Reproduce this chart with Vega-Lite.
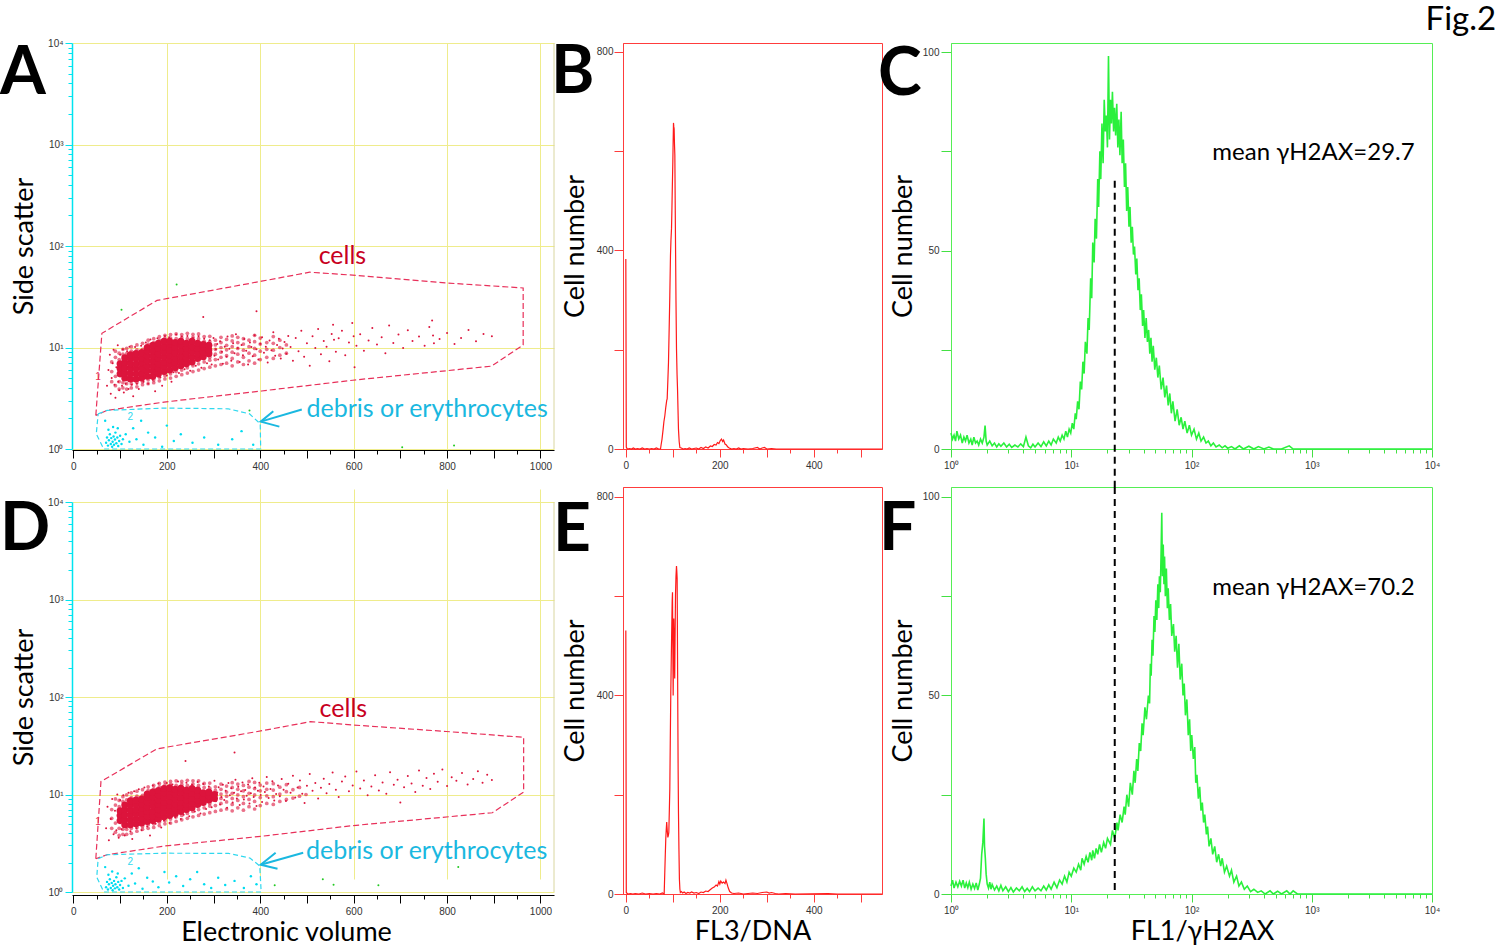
{
  "$schema": "https://vega.github.io/schema/vega-lite/v6.json",
  "padding": {"top": 4, "left": 0, "right": 0, "bottom": 0},
  "background": "white",
  "title": {"text": "Fig.2", "anchor": "end", "frame": "bounds", "fontSize": 33, "fontWeight": "normal", "dx": 56, "offset": 1},
  "columns": 3,
  "bounds": "flush",
  "align": "each",
  "spacing": {"row": 38, "column": 69},
  "datasets": {
    "aCellsGate": [
      {"i": 0, "v": 48, "s": 2.14}, {"i": 1, "v": 61, "s": 13.8}, {"i": 2, "v": 179, "s": 29.1}, {"i": 3, "v": 403, "s": 45.0},
      {"i": 4, "v": 506, "s": 55.2}, {"i": 5, "v": 598, "s": 51.6}, {"i": 6, "v": 796, "s": 43.3}, {"i": 7, "v": 963, "s": 38.6},
      {"i": 8, "v": 963, "s": 10.6}, {"i": 9, "v": 895, "s": 6.55}, {"i": 10, "v": 598, "s": 4.76}, {"i": 11, "v": 403, "s": 3.73},
      {"i": 12, "v": 194, "s": 2.9}, {"i": 13, "v": 72, "s": 2.4}, {"i": 14, "v": 48, "s": 2.14}
    ],
    "aDebrisGate": [
      {"i": 0, "v": 53, "s": 2.22}, {"i": 1, "v": 72, "s": 2.4}, {"i": 2, "v": 194, "s": 2.53}, {"i": 3, "v": 331, "s": 2.49},
      {"i": 4, "v": 377, "s": 2.22}, {"i": 5, "v": 400, "s": 1.77}, {"i": 6, "v": 401, "s": 1.0}, {"i": 7, "v": 65, "s": 1.0},
      {"i": 8, "v": 49, "s": 1.41}, {"i": 9, "v": 53, "s": 2.22}
    ],
    "aArrow": [
      {"part": "shaft", "i": 0, "v": 489, "s": 2.45}, {"part": "shaft", "i": 1, "v": 401, "s": 1.86},
      {"part": "head", "i": 0, "v": 428, "s": 2.36}, {"part": "head", "i": 1, "v": 401, "s": 1.86}, {"part": "head", "i": 2, "v": 441, "s": 1.66}
    ],
    "aCellsLabel": [{"v": 576, "s": 65.8, "t": "cells"}],
    "aDebrisLabel": [{"v": 499, "s": 2.06, "t": "debris or erythrocytes"}],
    "aGateNo": [{"v": 53, "s": 5.1, "t": "1"}, {"v": 122, "s": 2.06, "t": "2"}],
    "aEdge": [{"v": 1029, "s": 1, "s2": 10000}],
    "aCore": [
      {"v": 100, "s": 5.5}, {"v": 100, "s": 6.2}, {"v": 100, "s": 6.9},
      {"v": 110, "s": 5.0}, {"v": 110, "s": 5.6}, {"v": 110, "s": 6.3}, {"v": 110, "s": 7.1}, {"v": 110, "s": 7.9},
      {"v": 122, "s": 4.9}, {"v": 122, "s": 5.5}, {"v": 122, "s": 6.2}, {"v": 122, "s": 6.9}, {"v": 122, "s": 7.8}, {"v": 122, "s": 8.5},
      {"v": 134, "s": 4.9}, {"v": 134, "s": 5.5}, {"v": 134, "s": 6.2}, {"v": 134, "s": 6.9}, {"v": 134, "s": 7.8}, {"v": 134, "s": 8.7},
      {"v": 146, "s": 5.0}, {"v": 146, "s": 5.6}, {"v": 146, "s": 6.3}, {"v": 146, "s": 7.1}, {"v": 146, "s": 7.9}, {"v": 146, "s": 8.9},
      {"v": 158, "s": 5.2}, {"v": 158, "s": 5.9}, {"v": 158, "s": 6.6}, {"v": 158, "s": 7.4}, {"v": 158, "s": 8.3}, {"v": 158, "s": 9.3}, {"v": 158, "s": 10.0},
      {"v": 170, "s": 5.2}, {"v": 170, "s": 5.9}, {"v": 170, "s": 6.6}, {"v": 170, "s": 7.4}, {"v": 170, "s": 8.3}, {"v": 170, "s": 9.3}, {"v": 170, "s": 10.5},
      {"v": 182, "s": 5.5}, {"v": 182, "s": 6.2}, {"v": 182, "s": 6.9}, {"v": 182, "s": 7.8}, {"v": 182, "s": 8.7}, {"v": 182, "s": 9.8}, {"v": 182, "s": 11.0},
      {"v": 194, "s": 5.8}, {"v": 194, "s": 6.5}, {"v": 194, "s": 7.2}, {"v": 194, "s": 8.1}, {"v": 194, "s": 9.1}, {"v": 194, "s": 10.2}, {"v": 194, "s": 11.5},
      {"v": 206, "s": 6.0}, {"v": 206, "s": 6.8}, {"v": 206, "s": 7.6}, {"v": 206, "s": 8.5}, {"v": 206, "s": 9.5}, {"v": 206, "s": 10.7}, {"v": 206, "s": 11.5},
      {"v": 218, "s": 6.3}, {"v": 218, "s": 7.1}, {"v": 218, "s": 7.9}, {"v": 218, "s": 8.9}, {"v": 218, "s": 10.0}, {"v": 218, "s": 11.2},
      {"v": 230, "s": 6.6}, {"v": 230, "s": 7.4}, {"v": 230, "s": 8.3}, {"v": 230, "s": 9.3}, {"v": 230, "s": 10.5}, {"v": 230, "s": 11.5},
      {"v": 242, "s": 6.9}, {"v": 242, "s": 7.8}, {"v": 242, "s": 8.7}, {"v": 242, "s": 9.8}, {"v": 242, "s": 11.0},
      {"v": 254, "s": 7.2}, {"v": 254, "s": 8.1}, {"v": 254, "s": 9.1}, {"v": 254, "s": 10.2}, {"v": 254, "s": 11.5},
      {"v": 266, "s": 7.8}, {"v": 266, "s": 8.7}, {"v": 266, "s": 9.8}, {"v": 266, "s": 11.0},
      {"v": 278, "s": 8.1}, {"v": 278, "s": 9.1}, {"v": 278, "s": 10.2}, {"v": 278, "s": 10.7},
      {"v": 290, "s": 8.7}, {"v": 290, "s": 9.5}, {"v": 290, "s": 10.5}
    ],
    "aHalo": [
      {"v": 82, "s": 4.6}, {"v": 82, "s": 5.8}, {"v": 82, "s": 7.2},
      {"v": 90, "s": 4.2}, {"v": 90, "s": 5.2}, {"v": 90, "s": 8.0}, {"v": 90, "s": 9.2},
      {"v": 98, "s": 3.9}, {"v": 98, "s": 4.6}, {"v": 98, "s": 7.6}, {"v": 98, "s": 8.8},
      {"v": 106, "s": 4.0}, {"v": 106, "s": 4.5}, {"v": 106, "s": 8.6}, {"v": 106, "s": 9.6},
      {"v": 114, "s": 3.9}, {"v": 114, "s": 4.4}, {"v": 114, "s": 8.7}, {"v": 114, "s": 9.8},
      {"v": 124, "s": 4.0}, {"v": 124, "s": 4.4}, {"v": 124, "s": 9.2}, {"v": 124, "s": 10.2},
      {"v": 136, "s": 4.1}, {"v": 136, "s": 4.5}, {"v": 136, "s": 9.5}, {"v": 136, "s": 10.6},
      {"v": 148, "s": 4.3}, {"v": 148, "s": 4.6}, {"v": 148, "s": 9.6}, {"v": 148, "s": 11.0},
      {"v": 160, "s": 4.4}, {"v": 160, "s": 4.8}, {"v": 160, "s": 10.8}, {"v": 160, "s": 11.8},
      {"v": 172, "s": 4.5}, {"v": 172, "s": 4.8}, {"v": 172, "s": 11.2}, {"v": 172, "s": 12.2},
      {"v": 184, "s": 4.7}, {"v": 184, "s": 5.1}, {"v": 184, "s": 11.8}, {"v": 184, "s": 12.8},
      {"v": 196, "s": 4.9}, {"v": 196, "s": 5.3}, {"v": 196, "s": 12.3}, {"v": 196, "s": 13.2},
      {"v": 208, "s": 5.0}, {"v": 208, "s": 5.5}, {"v": 208, "s": 12.4}, {"v": 208, "s": 13.4},
      {"v": 220, "s": 5.2}, {"v": 220, "s": 5.8}, {"v": 220, "s": 12.2}, {"v": 220, "s": 13.6},
      {"v": 232, "s": 5.4}, {"v": 232, "s": 6.0}, {"v": 232, "s": 12.5}, {"v": 232, "s": 13.4},
      {"v": 244, "s": 5.6}, {"v": 244, "s": 6.3}, {"v": 244, "s": 12.2}, {"v": 244, "s": 13.8},
      {"v": 256, "s": 5.8}, {"v": 256, "s": 6.6}, {"v": 256, "s": 12.6}, {"v": 256, "s": 13.5},
      {"v": 268, "s": 6.0}, {"v": 268, "s": 6.9}, {"v": 268, "s": 12.2}, {"v": 268, "s": 13.6},
      {"v": 280, "s": 6.2}, {"v": 280, "s": 7.2}, {"v": 280, "s": 11.5}, {"v": 280, "s": 12.8},
      {"v": 292, "s": 6.4}, {"v": 292, "s": 7.5}, {"v": 292, "s": 8.0}, {"v": 292, "s": 11.4}, {"v": 292, "s": 12.9},
      {"v": 304, "s": 6.6}, {"v": 304, "s": 7.6}, {"v": 304, "s": 8.6}, {"v": 304, "s": 9.6}, {"v": 304, "s": 10.6}, {"v": 304, "s": 11.8},
      {"v": 316, "s": 6.8}, {"v": 316, "s": 8.0}, {"v": 316, "s": 9.0}, {"v": 316, "s": 10.0}, {"v": 316, "s": 11.2}, {"v": 316, "s": 12.6},
      {"v": 328, "s": 7.0}, {"v": 328, "s": 8.3}, {"v": 328, "s": 9.5}, {"v": 328, "s": 10.5}, {"v": 328, "s": 12.0},
      {"v": 340, "s": 6.6}, {"v": 340, "s": 7.8}, {"v": 340, "s": 9.0}, {"v": 340, "s": 10.2}, {"v": 340, "s": 11.6}, {"v": 340, "s": 13.0},
      {"v": 352, "s": 7.2}, {"v": 352, "s": 8.6}, {"v": 352, "s": 9.8}, {"v": 352, "s": 11.2}, {"v": 352, "s": 12.6},
      {"v": 364, "s": 6.8}, {"v": 364, "s": 8.0}, {"v": 364, "s": 9.4}, {"v": 364, "s": 10.8}, {"v": 364, "s": 12.2},
      {"v": 376, "s": 7.4}, {"v": 376, "s": 8.8}, {"v": 376, "s": 10.2}, {"v": 376, "s": 11.8},
      {"v": 388, "s": 7.0}, {"v": 388, "s": 8.4}, {"v": 388, "s": 9.8}, {"v": 388, "s": 11.4}, {"v": 388, "s": 13.2},
      {"v": 400, "s": 7.6}, {"v": 400, "s": 9.2}, {"v": 400, "s": 10.8}, {"v": 400, "s": 12.4},
      {"v": 414, "s": 8.0}, {"v": 414, "s": 9.6}, {"v": 414, "s": 11.2},
      {"v": 428, "s": 7.8}, {"v": 428, "s": 9.4}, {"v": 428, "s": 11.0}, {"v": 428, "s": 12.8},
      {"v": 442, "s": 8.4}, {"v": 442, "s": 10.0}, {"v": 442, "s": 11.8},
      {"v": 456, "s": 8.8}, {"v": 456, "s": 10.6}
    ],
    "aSparse": [
      {"v": 72, "s": 4.2}, {"v": 75, "s": 6}, {"v": 78, "s": 8.5}, {"v": 80, "s": 3.5}, {"v": 82, "s": 5}, {"v": 84, "s": 7}, {"v": 86, "s": 9.5},
      {"v": 88, "s": 4.3}, {"v": 90, "s": 3.2}, {"v": 92, "s": 6.4}, {"v": 95, "s": 10.5}, {"v": 96, "s": 4.6}, {"v": 98, "s": 3.8}, {"v": 100, "s": 8.5},
      {"v": 104, "s": 4.2}, {"v": 106, "s": 9.6}, {"v": 108, "s": 3.6}, {"v": 112, "s": 4.4}, {"v": 115, "s": 9.2}, {"v": 118, "s": 3.9}, {"v": 120, "s": 10.2},
      {"v": 125, "s": 4.3}, {"v": 128, "s": 3.3}, {"v": 132, "s": 10.1}, {"v": 136, "s": 4.4}, {"v": 140, "s": 3.9}, {"v": 145, "s": 10.4}, {"v": 150, "s": 4.6},
      {"v": 155, "s": 11.2}, {"v": 160, "s": 4.4}, {"v": 165, "s": 12}, {"v": 170, "s": 4.8}, {"v": 175, "s": 3.7}, {"v": 180, "s": 12.3}, {"v": 186, "s": 5.1},
      {"v": 190, "s": 4.2}, {"v": 196, "s": 13}, {"v": 200, "s": 5.3}, {"v": 205, "s": 12.6}, {"v": 210, "s": 4.6}, {"v": 214, "s": 5.7}, {"v": 220, "s": 13.4},
      {"v": 226, "s": 5.6}, {"v": 232, "s": 12.8}, {"v": 238, "s": 6.1}, {"v": 244, "s": 13}, {"v": 250, "s": 5.9}, {"v": 256, "s": 12.4}, {"v": 262, "s": 6.6},
      {"v": 268, "s": 12.9}, {"v": 274, "s": 6.3}, {"v": 280, "s": 12.2}, {"v": 286, "s": 7}, {"v": 292, "s": 11.8}, {"v": 296, "s": 6.8}, {"v": 300, "s": 12.4},
      {"v": 302, "s": 8.3}, {"v": 305, "s": 9.6}, {"v": 308, "s": 10.8}, {"v": 310, "s": 7.6}, {"v": 314, "s": 11.5}, {"v": 318, "s": 9.1}, {"v": 320, "s": 6.9},
      {"v": 324, "s": 10.2}, {"v": 328, "s": 8.1}, {"v": 330, "s": 12.8}, {"v": 334, "s": 9.7}, {"v": 338, "s": 7.4}, {"v": 342, "s": 11}, {"v": 345, "s": 8.8},
      {"v": 348, "s": 13.5}, {"v": 352, "s": 9.9}, {"v": 356, "s": 7.2}, {"v": 360, "s": 10.6}, {"v": 363, "s": 8.4}, {"v": 366, "s": 12.1}, {"v": 370, "s": 9.3},
      {"v": 374, "s": 6.8}, {"v": 378, "s": 11.2}, {"v": 381, "s": 10.1}, {"v": 384, "s": 8.2}, {"v": 388, "s": 13.2}, {"v": 392, "s": 9.6}, {"v": 396, "s": 7.6},
      {"v": 400, "s": 10.9}, {"v": 404, "s": 12.6}, {"v": 408, "s": 8.9}, {"v": 412, "s": 10.2}, {"v": 416, "s": 7.1}, {"v": 420, "s": 11.7}, {"v": 424, "s": 9.4},
      {"v": 428, "s": 14.1}, {"v": 432, "s": 8.3}, {"v": 436, "s": 10.6}, {"v": 440, "s": 12.2}, {"v": 444, "s": 7.8}, {"v": 448, "s": 9.8}, {"v": 452, "s": 11.3},
      {"v": 456, "s": 8.7}, {"v": 460, "s": 13}, {"v": 465, "s": 10.1}, {"v": 470, "s": 7.4}, {"v": 476, "s": 12.4}, {"v": 482, "s": 9.2}, {"v": 488, "s": 14.6},
      {"v": 494, "s": 8.1}, {"v": 500, "s": 11}, {"v": 506, "s": 6.6}, {"v": 512, "s": 12.9}, {"v": 518, "s": 9.9}, {"v": 524, "s": 15.2}, {"v": 530, "s": 8.6},
      {"v": 536, "s": 11.6}, {"v": 542, "s": 10.2}, {"v": 548, "s": 7.3}, {"v": 553, "s": 13.6}, {"v": 556, "s": 16.8}, {"v": 558, "s": 11.9}, {"v": 562, "s": 9.1},
      {"v": 568, "s": 12.3}, {"v": 575, "s": 14.6}, {"v": 582, "s": 8.4}, {"v": 590, "s": 11.2}, {"v": 597, "s": 17.4}, {"v": 600, "s": 12.9}, {"v": 602, "s": 6.4},
      {"v": 606, "s": 10.4}, {"v": 614, "s": 13.5}, {"v": 622, "s": 9.3}, {"v": 632, "s": 11.7}, {"v": 640, "s": 15.6}, {"v": 650, "s": 10.7}, {"v": 660, "s": 12.6},
      {"v": 668, "s": 8.8}, {"v": 676, "s": 16.5}, {"v": 685, "s": 11.1}, {"v": 696, "s": 13.4}, {"v": 706, "s": 9.9}, {"v": 716, "s": 14.8}, {"v": 726, "s": 11.6},
      {"v": 740, "s": 12.8}, {"v": 752, "s": 10.4}, {"v": 762, "s": 15.9}, {"v": 768, "s": 18.4}, {"v": 770, "s": 13.1}, {"v": 772, "s": 11}, {"v": 784, "s": 12.1},
      {"v": 800, "s": 13.9}, {"v": 816, "s": 10.8}, {"v": 830, "s": 12.4}, {"v": 846, "s": 14.9}, {"v": 862, "s": 11.5}, {"v": 878, "s": 13.6}, {"v": 896, "s": 12.9},
      {"v": 392, "s": 22.7}, {"v": 278, "s": 20}
    ],
    "aDebris": [
      {"v": 70, "s": 1.15}, {"v": 72, "s": 1.3}, {"v": 74, "s": 1.08}, {"v": 76, "s": 1.22}, {"v": 78, "s": 1.4}, {"v": 80, "s": 1.12}, {"v": 81, "s": 1.28},
      {"v": 83, "s": 1.05}, {"v": 84, "s": 1.18}, {"v": 86, "s": 1.33}, {"v": 87, "s": 1.1}, {"v": 89, "s": 1.24}, {"v": 90, "s": 1.45}, {"v": 92, "s": 1.14},
      {"v": 94, "s": 1.3}, {"v": 96, "s": 1.07}, {"v": 98, "s": 1.2}, {"v": 100, "s": 1.35}, {"v": 103, "s": 1.12}, {"v": 106, "s": 1.25}, {"v": 75, "s": 1.55},
      {"v": 85, "s": 1.65}, {"v": 95, "s": 1.6}, {"v": 68, "s": 1.9}, {"v": 112, "s": 1.4}, {"v": 120, "s": 1.18}, {"v": 128, "s": 1.6}, {"v": 135, "s": 1.25},
      {"v": 145, "s": 1.9}, {"v": 150, "s": 1.1}, {"v": 160, "s": 1.45}, {"v": 175, "s": 1.3}, {"v": 190, "s": 1.05}, {"v": 200, "s": 1.7}, {"v": 215, "s": 1.2},
      {"v": 230, "s": 1.4}, {"v": 255, "s": 1.15}, {"v": 280, "s": 1.3}, {"v": 310, "s": 1.1}, {"v": 340, "s": 1.25}, {"v": 360, "s": 1.5}, {"v": 385, "s": 1.1}
    ],
    "aGreen": [{"v": 221, "s": 41.7}, {"v": 103, "s": 23.5}, {"v": 815, "s": 1.08}, {"v": 704, "s": 1.04}, {"v": 377, "s": 2.4}],
    "dCellsGate": [
      {"i": 0, "v": 48, "s": 2.19}, {"i": 1, "v": 59, "s": 13.6}, {"i": 2, "v": 179, "s": 29.4}, {"i": 3, "v": 405, "s": 45.2},
      {"i": 4, "v": 508, "s": 55.9}, {"i": 5, "v": 599, "s": 51.6}, {"i": 6, "v": 798, "s": 44.3}, {"i": 7, "v": 964, "s": 38.6},
      {"i": 8, "v": 964, "s": 10.6}, {"i": 9, "v": 897, "s": 6.5}, {"i": 10, "v": 599, "s": 4.8}, {"i": 11, "v": 405, "s": 3.74},
      {"i": 12, "v": 195, "s": 2.96}, {"i": 13, "v": 72, "s": 2.41}, {"i": 14, "v": 48, "s": 2.19}
    ],
    "dDebrisGate": [
      {"i": 0, "v": 53, "s": 2.19}, {"i": 1, "v": 72, "s": 2.41}, {"i": 2, "v": 195, "s": 2.5}, {"i": 3, "v": 332, "s": 2.49},
      {"i": 4, "v": 378, "s": 2.23}, {"i": 5, "v": 399, "s": 1.85}, {"i": 6, "v": 402, "s": 1.0}, {"i": 7, "v": 65, "s": 1.0},
      {"i": 8, "v": 50, "s": 1.42}, {"i": 9, "v": 53, "s": 2.19}
    ],
    "dArrow": [
      {"part": "shaft", "i": 0, "v": 492, "s": 2.53}, {"part": "shaft", "i": 1, "v": 401, "s": 1.9},
      {"part": "head", "i": 0, "v": 433, "s": 2.53}, {"part": "head", "i": 1, "v": 401, "s": 1.9}, {"part": "head", "i": 2, "v": 437, "s": 1.73}
    ],
    "dCellsLabel": [{"v": 578, "s": 61.9, "t": "cells"}],
    "dDebrisLabel": [{"v": 498, "s": 2.19, "t": "debris or erythrocytes"}],
    "dGateNo": [{"v": 53, "s": 5.2, "t": "1"}, {"v": 122, "s": 2.03, "t": "2"}],
    "dEdge": [{"v": 1029, "s": 1, "s2": 10000}],
    "dCore": [
      {"v": 100, "s": 5.4}, {"v": 100, "s": 6.1}, {"v": 100, "s": 6.8},
      {"v": 110, "s": 4.9}, {"v": 110, "s": 5.5}, {"v": 110, "s": 6.2}, {"v": 110, "s": 7.0}, {"v": 110, "s": 7.8},
      {"v": 122, "s": 4.9}, {"v": 122, "s": 5.5}, {"v": 122, "s": 6.2}, {"v": 122, "s": 6.9}, {"v": 122, "s": 7.8}, {"v": 122, "s": 8.6},
      {"v": 134, "s": 5.0}, {"v": 134, "s": 5.6}, {"v": 134, "s": 6.3}, {"v": 134, "s": 7.0}, {"v": 134, "s": 7.9}, {"v": 134, "s": 8.8},
      {"v": 146, "s": 5.1}, {"v": 146, "s": 5.7}, {"v": 146, "s": 6.4}, {"v": 146, "s": 7.2}, {"v": 146, "s": 8.0}, {"v": 146, "s": 9.0},
      {"v": 158, "s": 5.3}, {"v": 158, "s": 6.0}, {"v": 158, "s": 6.7}, {"v": 158, "s": 7.5}, {"v": 158, "s": 8.4}, {"v": 158, "s": 9.4}, {"v": 158, "s": 10.1},
      {"v": 170, "s": 5.4}, {"v": 170, "s": 6.0}, {"v": 170, "s": 6.7}, {"v": 170, "s": 7.6}, {"v": 170, "s": 8.5}, {"v": 170, "s": 9.5}, {"v": 170, "s": 10.6},
      {"v": 182, "s": 5.6}, {"v": 182, "s": 6.3}, {"v": 182, "s": 7.0}, {"v": 182, "s": 7.9}, {"v": 182, "s": 8.8}, {"v": 182, "s": 9.9}, {"v": 182, "s": 11.0},
      {"v": 194, "s": 5.9}, {"v": 194, "s": 6.6}, {"v": 194, "s": 7.4}, {"v": 194, "s": 8.3}, {"v": 194, "s": 9.3}, {"v": 194, "s": 10.4}, {"v": 194, "s": 11.5},
      {"v": 206, "s": 6.1}, {"v": 206, "s": 6.9}, {"v": 206, "s": 7.7}, {"v": 206, "s": 8.6}, {"v": 206, "s": 9.6}, {"v": 206, "s": 10.8}, {"v": 206, "s": 11.7},
      {"v": 218, "s": 6.4}, {"v": 218, "s": 7.2}, {"v": 218, "s": 8.0}, {"v": 218, "s": 9.0}, {"v": 218, "s": 10.1}, {"v": 218, "s": 11.3},
      {"v": 230, "s": 6.7}, {"v": 230, "s": 7.5}, {"v": 230, "s": 8.4}, {"v": 230, "s": 9.4}, {"v": 230, "s": 10.6}, {"v": 230, "s": 11.6},
      {"v": 242, "s": 7.0}, {"v": 242, "s": 7.9}, {"v": 242, "s": 8.8}, {"v": 242, "s": 9.9}, {"v": 242, "s": 11.1},
      {"v": 254, "s": 7.3}, {"v": 254, "s": 8.2}, {"v": 254, "s": 9.2}, {"v": 254, "s": 10.3}, {"v": 254, "s": 11.5},
      {"v": 266, "s": 7.9}, {"v": 266, "s": 8.8}, {"v": 266, "s": 9.9}, {"v": 266, "s": 11.1},
      {"v": 278, "s": 8.3}, {"v": 278, "s": 9.3}, {"v": 278, "s": 10.4},
      {"v": 290, "s": 8.8}, {"v": 290, "s": 9.7}, {"v": 290, "s": 10.6},
      {"v": 302, "s": 9.1}, {"v": 302, "s": 10.0}
    ],
    "dHalo": [
      {"v": 82, "s": 4.5}, {"v": 82, "s": 5.7}, {"v": 82, "s": 7.0},
      {"v": 90, "s": 4.1}, {"v": 90, "s": 5.1}, {"v": 90, "s": 7.8}, {"v": 90, "s": 9.0},
      {"v": 98, "s": 3.8}, {"v": 98, "s": 4.5}, {"v": 98, "s": 7.5}, {"v": 98, "s": 8.7},
      {"v": 106, "s": 3.9}, {"v": 106, "s": 4.4}, {"v": 106, "s": 8.5}, {"v": 106, "s": 9.5},
      {"v": 114, "s": 3.9}, {"v": 114, "s": 4.4}, {"v": 114, "s": 8.8}, {"v": 114, "s": 9.9},
      {"v": 124, "s": 4.0}, {"v": 124, "s": 4.5}, {"v": 124, "s": 9.3}, {"v": 124, "s": 10.4},
      {"v": 136, "s": 4.2}, {"v": 136, "s": 4.6}, {"v": 136, "s": 9.6}, {"v": 136, "s": 10.8},
      {"v": 148, "s": 4.4}, {"v": 148, "s": 4.7}, {"v": 148, "s": 9.8}, {"v": 148, "s": 11.2},
      {"v": 160, "s": 4.5}, {"v": 160, "s": 4.9}, {"v": 160, "s": 11.0}, {"v": 160, "s": 12.0},
      {"v": 172, "s": 4.6}, {"v": 172, "s": 5.0}, {"v": 172, "s": 11.4}, {"v": 172, "s": 12.4},
      {"v": 184, "s": 4.8}, {"v": 184, "s": 5.2}, {"v": 184, "s": 12.0}, {"v": 184, "s": 13.0},
      {"v": 196, "s": 5.0}, {"v": 196, "s": 5.4}, {"v": 196, "s": 12.5}, {"v": 196, "s": 13.4},
      {"v": 208, "s": 5.1}, {"v": 208, "s": 5.6}, {"v": 208, "s": 12.6}, {"v": 208, "s": 13.6},
      {"v": 220, "s": 5.3}, {"v": 220, "s": 5.9}, {"v": 220, "s": 12.4}, {"v": 220, "s": 13.8},
      {"v": 232, "s": 5.5}, {"v": 232, "s": 6.1}, {"v": 232, "s": 12.7}, {"v": 232, "s": 13.6},
      {"v": 244, "s": 5.7}, {"v": 244, "s": 6.4}, {"v": 244, "s": 12.4}, {"v": 244, "s": 14.0},
      {"v": 256, "s": 5.9}, {"v": 256, "s": 6.7}, {"v": 256, "s": 12.8}, {"v": 256, "s": 13.8},
      {"v": 268, "s": 6.1}, {"v": 268, "s": 7.0}, {"v": 268, "s": 12.4}, {"v": 268, "s": 13.8},
      {"v": 280, "s": 6.3}, {"v": 280, "s": 7.3}, {"v": 280, "s": 11.8}, {"v": 280, "s": 13.0},
      {"v": 292, "s": 6.5}, {"v": 292, "s": 7.6}, {"v": 292, "s": 8.1}, {"v": 292, "s": 11.6}, {"v": 292, "s": 13.1},
      {"v": 304, "s": 6.7}, {"v": 304, "s": 7.7}, {"v": 304, "s": 8.7}, {"v": 304, "s": 11.0}, {"v": 304, "s": 12.0},
      {"v": 316, "s": 6.9}, {"v": 316, "s": 8.1}, {"v": 316, "s": 9.1}, {"v": 316, "s": 10.1}, {"v": 316, "s": 11.3}, {"v": 316, "s": 12.8},
      {"v": 328, "s": 7.1}, {"v": 328, "s": 8.4}, {"v": 328, "s": 9.6}, {"v": 328, "s": 10.6}, {"v": 328, "s": 12.2},
      {"v": 340, "s": 6.8}, {"v": 340, "s": 7.9}, {"v": 340, "s": 9.1}, {"v": 340, "s": 10.3}, {"v": 340, "s": 11.8}, {"v": 340, "s": 13.2},
      {"v": 352, "s": 7.3}, {"v": 352, "s": 8.7}, {"v": 352, "s": 9.9}, {"v": 352, "s": 11.3}, {"v": 352, "s": 12.8},
      {"v": 364, "s": 6.9}, {"v": 364, "s": 8.1}, {"v": 364, "s": 9.5}, {"v": 364, "s": 10.9}, {"v": 364, "s": 12.4},
      {"v": 376, "s": 7.5}, {"v": 376, "s": 8.9}, {"v": 376, "s": 10.3}, {"v": 376, "s": 11.9}, {"v": 376, "s": 13.6},
      {"v": 388, "s": 7.1}, {"v": 388, "s": 8.5}, {"v": 388, "s": 9.9}, {"v": 388, "s": 11.5}, {"v": 388, "s": 13.3},
      {"v": 400, "s": 7.7}, {"v": 400, "s": 9.3}, {"v": 400, "s": 10.9}, {"v": 400, "s": 12.5},
      {"v": 414, "s": 8.1}, {"v": 414, "s": 9.7}, {"v": 414, "s": 11.3}, {"v": 414, "s": 13.1},
      {"v": 428, "s": 7.9}, {"v": 428, "s": 9.5}, {"v": 428, "s": 11.1}, {"v": 428, "s": 12.9},
      {"v": 442, "s": 8.5}, {"v": 442, "s": 10.1}, {"v": 442, "s": 11.9},
      {"v": 456, "s": 8.9}, {"v": 456, "s": 10.7}, {"v": 456, "s": 12.6},
      {"v": 470, "s": 9.2}, {"v": 470, "s": 11.2},
      {"v": 484, "s": 9.6}, {"v": 484, "s": 11.8},
      {"v": 498, "s": 10.0}
    ],
    "dSparse": [
      {"v": 70, "s": 4.5}, {"v": 73, "s": 7.5}, {"v": 76, "s": 3.4}, {"v": 80, "s": 5.6}, {"v": 83, "s": 9}, {"v": 86, "s": 3.9}, {"v": 89, "s": 6.8},
      {"v": 92, "s": 4.3}, {"v": 94, "s": 10}, {"v": 97, "s": 3.6}, {"v": 100, "s": 8.8}, {"v": 103, "s": 4.4}, {"v": 107, "s": 9.8}, {"v": 110, "s": 3.8},
      {"v": 114, "s": 4.6}, {"v": 118, "s": 10.4}, {"v": 122, "s": 4.2}, {"v": 126, "s": 3.5}, {"v": 130, "s": 10.8}, {"v": 135, "s": 4.5}, {"v": 140, "s": 11.3},
      {"v": 146, "s": 4.3}, {"v": 152, "s": 11.8}, {"v": 158, "s": 4.7}, {"v": 164, "s": 3.8}, {"v": 170, "s": 12.4}, {"v": 176, "s": 5}, {"v": 182, "s": 13},
      {"v": 188, "s": 4.6}, {"v": 194, "s": 5.4}, {"v": 200, "s": 13.1}, {"v": 206, "s": 5.1}, {"v": 212, "s": 12.7}, {"v": 218, "s": 5.8}, {"v": 224, "s": 13.6},
      {"v": 230, "s": 5.6}, {"v": 236, "s": 6.2}, {"v": 242, "s": 13.2}, {"v": 248, "s": 6}, {"v": 254, "s": 12.6}, {"v": 260, "s": 6.7}, {"v": 266, "s": 13.4},
      {"v": 272, "s": 6.4}, {"v": 278, "s": 12.8}, {"v": 284, "s": 7.1}, {"v": 290, "s": 12.1}, {"v": 296, "s": 7.4}, {"v": 302, "s": 13.8},
      {"v": 305, "s": 8.6}, {"v": 308, "s": 10.5}, {"v": 311, "s": 11.9}, {"v": 314, "s": 7.9}, {"v": 317, "s": 9.4}, {"v": 320, "s": 12.6}, {"v": 323, "s": 8.8},
      {"v": 326, "s": 10.9}, {"v": 329, "s": 7.3}, {"v": 332, "s": 13.1}, {"v": 335, "s": 9.8}, {"v": 338, "s": 11.6}, {"v": 341, "s": 8.3}, {"v": 344, "s": 10.4},
      {"v": 347, "s": 14.2}, {"v": 350, "s": 9.1}, {"v": 353, "s": 12}, {"v": 356, "s": 7.8}, {"v": 359, "s": 10.8}, {"v": 362, "s": 13.3}, {"v": 365, "s": 8.9},
      {"v": 368, "s": 11.1}, {"v": 371, "s": 9.7}, {"v": 374, "s": 12.7}, {"v": 377, "s": 8.1}, {"v": 380, "s": 10.3}, {"v": 383, "s": 14.7}, {"v": 386, "s": 9.4},
      {"v": 389, "s": 11.8}, {"v": 392, "s": 7.6}, {"v": 395, "s": 10.9}, {"v": 398, "s": 13.2}, {"v": 401, "s": 9.9}, {"v": 404, "s": 8.4}, {"v": 407, "s": 12.1},
      {"v": 410, "s": 10.6}, {"v": 414, "s": 15.1}, {"v": 418, "s": 9.2}, {"v": 422, "s": 11.4}, {"v": 426, "s": 13.7}, {"v": 430, "s": 8.7}, {"v": 434, "s": 10.1},
      {"v": 438, "s": 12.4}, {"v": 442, "s": 9.6}, {"v": 446, "s": 14.4}, {"v": 450, "s": 11.2}, {"v": 455, "s": 8.6}, {"v": 460, "s": 12.9}, {"v": 465, "s": 10.4},
      {"v": 470, "s": 15.6}, {"v": 475, "s": 9.3}, {"v": 480, "s": 11.8}, {"v": 485, "s": 13.9}, {"v": 490, "s": 10.2}, {"v": 495, "s": 8.2}, {"v": 500, "s": 12.3},
      {"v": 506, "s": 16.2}, {"v": 512, "s": 10.9}, {"v": 518, "s": 13.1}, {"v": 524, "s": 9.1}, {"v": 530, "s": 11.7}, {"v": 536, "s": 14.5},
      {"v": 542, "s": 10.3}, {"v": 548, "s": 12.8}, {"v": 555, "s": 16.8}, {"v": 562, "s": 11.2}, {"v": 568, "s": 9.4}, {"v": 575, "s": 13.6}, {"v": 582, "s": 15.3},
      {"v": 590, "s": 10.8}, {"v": 598, "s": 12.4}, {"v": 606, "s": 17.2}, {"v": 614, "s": 11.5}, {"v": 622, "s": 13.9}, {"v": 630, "s": 9.8}, {"v": 638, "s": 12.1},
      {"v": 646, "s": 15.8}, {"v": 654, "s": 11}, {"v": 662, "s": 13.3}, {"v": 670, "s": 10.2}, {"v": 678, "s": 16.9}, {"v": 686, "s": 12.6}, {"v": 694, "s": 14.2},
      {"v": 700, "s": 8.3}, {"v": 708, "s": 11.9}, {"v": 716, "s": 15.5}, {"v": 724, "s": 13}, {"v": 732, "s": 10.6}, {"v": 740, "s": 17.6}, {"v": 748, "s": 12.3},
      {"v": 756, "s": 14.8}, {"v": 764, "s": 11.4}, {"v": 772, "s": 16.3}, {"v": 780, "s": 13.5}, {"v": 790, "s": 18}, {"v": 800, "s": 12.2}, {"v": 810, "s": 15},
      {"v": 820, "s": 13.8}, {"v": 832, "s": 16.6}, {"v": 844, "s": 12.7}, {"v": 856, "s": 14.4}, {"v": 866, "s": 17.3}, {"v": 876, "s": 13.2}, {"v": 886, "s": 15.9},
      {"v": 896, "s": 14.1}, {"v": 240, "s": 22}, {"v": 345, "s": 27}
    ],
    "dDebris": [
      {"v": 70, "s": 1.12}, {"v": 72, "s": 1.27}, {"v": 74, "s": 1.06}, {"v": 76, "s": 1.2}, {"v": 78, "s": 1.35}, {"v": 80, "s": 1.1}, {"v": 82, "s": 1.24},
      {"v": 84, "s": 1.04}, {"v": 85, "s": 1.16}, {"v": 87, "s": 1.3}, {"v": 89, "s": 1.09}, {"v": 90, "s": 1.2}, {"v": 92, "s": 1.42}, {"v": 94, "s": 1.12},
      {"v": 96, "s": 1.27}, {"v": 98, "s": 1.06}, {"v": 100, "s": 1.18}, {"v": 103, "s": 1.3}, {"v": 106, "s": 1.1}, {"v": 75, "s": 1.5}, {"v": 83, "s": 1.62},
      {"v": 95, "s": 1.55}, {"v": 68, "s": 1.8}, {"v": 110, "s": 1.38}, {"v": 118, "s": 1.16}, {"v": 125, "s": 1.55}, {"v": 132, "s": 1.22}, {"v": 140, "s": 1.75},
      {"v": 148, "s": 1.08}, {"v": 158, "s": 1.4}, {"v": 170, "s": 1.28}, {"v": 182, "s": 1.12}, {"v": 195, "s": 1.6}, {"v": 205, "s": 1.25}, {"v": 220, "s": 1.45},
      {"v": 235, "s": 1.15}, {"v": 250, "s": 1.35}, {"v": 265, "s": 1.6}, {"v": 280, "s": 1.2}, {"v": 295, "s": 1.1}, {"v": 310, "s": 1.4}, {"v": 325, "s": 1.18},
      {"v": 345, "s": 1.3}, {"v": 365, "s": 1.1}, {"v": 380, "s": 1.45}, {"v": 392, "s": 1.2}
    ],
    "dGreen": [{"v": 431, "s": 1.17}, {"v": 557, "s": 1.19}, {"v": 653, "s": 1.17}, {"v": 824, "s": 1.8}, {"v": 534, "s": 1.35}],
    "bHist": [
      {"ch": 0, "n": 383}, {"ch": 1, "n": 4}, {"ch": 3, "n": 0}, {"ch": 8, "n": 1}, {"ch": 12, "n": 0}, {"ch": 16, "n": 2}, {"ch": 20, "n": 0},
      {"ch": 25, "n": 1}, {"ch": 30, "n": 0}, {"ch": 35, "n": 2}, {"ch": 40, "n": 0}, {"ch": 45, "n": 1}, {"ch": 50, "n": 0}, {"ch": 55, "n": 1},
      {"ch": 60, "n": 0}, {"ch": 65, "n": 2}, {"ch": 70, "n": 0}, {"ch": 73.8, "n": 0},
      {"ch": 75, "n": 8}, {"ch": 77, "n": 20}, {"ch": 79.4, "n": 40}, {"ch": 81, "n": 55}, {"ch": 83, "n": 67}, {"ch": 85, "n": 84}, {"ch": 87, "n": 98},
      {"ch": 88, "n": 101}, {"ch": 89.5, "n": 140}, {"ch": 90.8, "n": 175}, {"ch": 92.2, "n": 242}, {"ch": 93.6, "n": 309}, {"ch": 95, "n": 390},
      {"ch": 96, "n": 420}, {"ch": 97.2, "n": 444}, {"ch": 98, "n": 480}, {"ch": 98.6, "n": 511}, {"ch": 99.3, "n": 545}, {"ch": 100, "n": 578},
      {"ch": 100.7, "n": 620}, {"ch": 101.4, "n": 657}, {"ch": 102, "n": 650}, {"ch": 102.8, "n": 645}, {"ch": 103.5, "n": 615}, {"ch": 104.3, "n": 592},
      {"ch": 105, "n": 500}, {"ch": 105.7, "n": 417}, {"ch": 106.7, "n": 300}, {"ch": 107.8, "n": 202}, {"ch": 109, "n": 150}, {"ch": 110, "n": 121},
      {"ch": 111, "n": 80}, {"ch": 112, "n": 40}, {"ch": 113.5, "n": 15}, {"ch": 115, "n": 3},
      {"ch": 118, "n": 2}, {"ch": 122, "n": 0}, {"ch": 126, "n": 1}, {"ch": 130, "n": 0}, {"ch": 135, "n": 2}, {"ch": 140, "n": 0}, {"ch": 145, "n": 1},
      {"ch": 150, "n": 2}, {"ch": 155, "n": 0}, {"ch": 160, "n": 3}, {"ch": 165, "n": 1}, {"ch": 170, "n": 4}, {"ch": 175, "n": 2}, {"ch": 180, "n": 6},
      {"ch": 184, "n": 5}, {"ch": 188, "n": 9}, {"ch": 192, "n": 8}, {"ch": 195, "n": 13}, {"ch": 198, "n": 11}, {"ch": 201, "n": 17}, {"ch": 203.5, "n": 20},
      {"ch": 206, "n": 15}, {"ch": 208, "n": 18}, {"ch": 211, "n": 10}, {"ch": 214, "n": 8}, {"ch": 217, "n": 4}, {"ch": 220, "n": 2}, {"ch": 225, "n": 0},
      {"ch": 230, "n": 1}, {"ch": 235, "n": 0}, {"ch": 240, "n": 2}, {"ch": 245, "n": 0}, {"ch": 250, "n": 1}, {"ch": 260, "n": 0}, {"ch": 270, "n": 1},
      {"ch": 280, "n": 3}, {"ch": 285, "n": 0}, {"ch": 290, "n": 2}, {"ch": 295, "n": 3}, {"ch": 300, "n": 0}, {"ch": 310, "n": 1}, {"ch": 320, "n": 0},
      {"ch": 400, "n": 0}, {"ch": 545, "n": 0}
    ],
    "eHist": [
      {"ch": 0, "n": 531}, {"ch": 1, "n": 3}, {"ch": 4, "n": 0}, {"ch": 10, "n": 1}, {"ch": 15, "n": 0}, {"ch": 20, "n": 1}, {"ch": 28, "n": 0},
      {"ch": 35, "n": 2}, {"ch": 42, "n": 0}, {"ch": 50, "n": 1}, {"ch": 58, "n": 0}, {"ch": 65, "n": 1}, {"ch": 72, "n": 0}, {"ch": 78, "n": 2},
      {"ch": 81.6, "n": 0}, {"ch": 82.9, "n": 44}, {"ch": 84, "n": 80}, {"ch": 85, "n": 111}, {"ch": 86, "n": 130}, {"ch": 87, "n": 145}, {"ch": 88, "n": 130},
      {"ch": 89.4, "n": 114}, {"ch": 90.5, "n": 118}, {"ch": 91.5, "n": 124}, {"ch": 92.5, "n": 165}, {"ch": 93.6, "n": 212}, {"ch": 94.6, "n": 310},
      {"ch": 95.7, "n": 407}, {"ch": 96.8, "n": 480}, {"ch": 97.9, "n": 548}, {"ch": 98.6, "n": 590}, {"ch": 99.3, "n": 608}, {"ch": 100, "n": 500},
      {"ch": 100.7, "n": 400}, {"ch": 101.3, "n": 470}, {"ch": 102, "n": 555}, {"ch": 103, "n": 500}, {"ch": 104, "n": 434}, {"ch": 104.8, "n": 520},
      {"ch": 105.7, "n": 602}, {"ch": 106.7, "n": 640}, {"ch": 107.8, "n": 661}, {"ch": 108.5, "n": 650}, {"ch": 109.2, "n": 635}, {"ch": 110, "n": 480},
      {"ch": 110.6, "n": 366}, {"ch": 111.3, "n": 250}, {"ch": 112, "n": 165}, {"ch": 113, "n": 90}, {"ch": 114, "n": 30}, {"ch": 115, "n": 10}, {"ch": 116, "n": 3},
      {"ch": 118, "n": 5}, {"ch": 121, "n": 2}, {"ch": 124, "n": 4}, {"ch": 128, "n": 1}, {"ch": 132, "n": 3}, {"ch": 136, "n": 2}, {"ch": 140, "n": 4},
      {"ch": 145, "n": 2}, {"ch": 150, "n": 3}, {"ch": 155, "n": 1}, {"ch": 160, "n": 4}, {"ch": 165, "n": 3}, {"ch": 170, "n": 6}, {"ch": 175, "n": 5},
      {"ch": 180, "n": 9}, {"ch": 184, "n": 12}, {"ch": 188, "n": 14}, {"ch": 192, "n": 18}, {"ch": 195, "n": 16}, {"ch": 198, "n": 25}, {"ch": 200, "n": 20},
      {"ch": 202, "n": 26}, {"ch": 205, "n": 22}, {"ch": 208, "n": 24}, {"ch": 211, "n": 21}, {"ch": 213, "n": 28}, {"ch": 215, "n": 22}, {"ch": 218, "n": 12},
      {"ch": 221, "n": 5}, {"ch": 225, "n": 2}, {"ch": 230, "n": 1}, {"ch": 240, "n": 2}, {"ch": 250, "n": 0}, {"ch": 260, "n": 1}, {"ch": 270, "n": 2},
      {"ch": 280, "n": 1}, {"ch": 290, "n": 3}, {"ch": 300, "n": 4}, {"ch": 305, "n": 2}, {"ch": 310, "n": 3}, {"ch": 318, "n": 1}, {"ch": 325, "n": 0},
      {"ch": 340, "n": 1}, {"ch": 360, "n": 0}, {"ch": 430, "n": 1}, {"ch": 450, "n": 0}, {"ch": 545, "n": 0}
    ],
    "cHist": [
      {"fl": 1.0, "n": 4}, {"fl": 1.03, "n": 2.5}, {"fl": 1.06, "n": 3.5}, {"fl": 1.09, "n": 2}, {"fl": 1.12, "n": 4.5}, {"fl": 1.16, "n": 2.5}, {"fl": 1.2, "n": 3.5},
      {"fl": 1.24, "n": 1.5}, {"fl": 1.28, "n": 3}, {"fl": 1.32, "n": 2}, {"fl": 1.36, "n": 3.5}, {"fl": 1.41, "n": 1.5}, {"fl": 1.46, "n": 2.5}, {"fl": 1.5, "n": 1},
      {"fl": 1.55, "n": 3}, {"fl": 1.6, "n": 1.5}, {"fl": 1.65, "n": 2}, {"fl": 1.7, "n": 1}, {"fl": 1.76, "n": 2.5}, {"fl": 1.82, "n": 1.5}, {"fl": 1.88, "n": 3},
      {"fl": 1.92, "n": 5.9}, {"fl": 1.96, "n": 2}, {"fl": 2.0, "n": 1}, {"fl": 2.1, "n": 2}, {"fl": 2.2, "n": 0.8}, {"fl": 2.3, "n": 1.5}, {"fl": 2.4, "n": 0.5},
      {"fl": 2.5, "n": 1.3}, {"fl": 2.6, "n": 0.7}, {"fl": 2.75, "n": 1.5}, {"fl": 2.9, "n": 0.5}, {"fl": 3.05, "n": 1.2}, {"fl": 3.2, "n": 0.4}, {"fl": 3.4, "n": 1},
      {"fl": 3.6, "n": 0.5}, {"fl": 3.8, "n": 1.3}, {"fl": 4.0, "n": 0.6}, {"fl": 4.2, "n": 3}, {"fl": 4.4, "n": 0.8}, {"fl": 4.6, "n": 0.3}, {"fl": 4.8, "n": 1.2},
      {"fl": 5.0, "n": 0.5}, {"fl": 5.3, "n": 1.5}, {"fl": 5.6, "n": 0.6}, {"fl": 5.9, "n": 1.8}, {"fl": 6.2, "n": 0.8}, {"fl": 6.5, "n": 2}, {"fl": 6.8, "n": 1},
      {"fl": 7.1, "n": 2.5}, {"fl": 7.5, "n": 1.5}, {"fl": 7.8, "n": 3}, {"fl": 8.1, "n": 2}, {"fl": 8.4, "n": 3.5}, {"fl": 8.7, "n": 2.5}, {"fl": 9.0, "n": 4.5},
      {"fl": 9.3, "n": 3}, {"fl": 9.6, "n": 5}, {"fl": 9.9, "n": 4}, {"fl": 10.2, "n": 6.5}, {"fl": 10.5, "n": 5}, {"fl": 10.8, "n": 9}, {"fl": 11.0, "n": 7.5},
      {"fl": 11.3, "n": 12}, {"fl": 11.6, "n": 10}, {"fl": 11.9, "n": 17}, {"fl": 12.2, "n": 15}, {"fl": 12.5, "n": 22}, {"fl": 12.8, "n": 19}, {"fl": 13.1, "n": 27},
      {"fl": 13.5, "n": 24}, {"fl": 13.8, "n": 33}, {"fl": 14.1, "n": 30}, {"fl": 14.5, "n": 43}, {"fl": 14.8, "n": 38}, {"fl": 15.1, "n": 52}, {"fl": 15.5, "n": 47},
      {"fl": 15.8, "n": 58}, {"fl": 16.2, "n": 53}, {"fl": 16.6, "n": 68}, {"fl": 16.9, "n": 61}, {"fl": 17.3, "n": 75}, {"fl": 17.6, "n": 68}, {"fl": 18.0, "n": 82},
      {"fl": 18.4, "n": 72}, {"fl": 18.8, "n": 88}, {"fl": 19.2, "n": 80}, {"fl": 19.6, "n": 84}, {"fl": 20.0, "n": 76}, {"fl": 20.4, "n": 99}, {"fl": 20.8, "n": 78},
      {"fl": 21.2, "n": 88}, {"fl": 21.6, "n": 82}, {"fl": 22.0, "n": 90}, {"fl": 22.5, "n": 80}, {"fl": 22.9, "n": 86}, {"fl": 23.4, "n": 79}, {"fl": 23.9, "n": 87},
      {"fl": 24.4, "n": 76}, {"fl": 24.9, "n": 83}, {"fl": 25.4, "n": 74}, {"fl": 26.0, "n": 85}, {"fl": 26.5, "n": 72}, {"fl": 27.1, "n": 78}, {"fl": 27.7, "n": 66},
      {"fl": 28.3, "n": 72}, {"fl": 28.9, "n": 60}, {"fl": 29.5, "n": 66}, {"fl": 30.2, "n": 56}, {"fl": 30.8, "n": 61}, {"fl": 31.5, "n": 52}, {"fl": 32.2, "n": 56},
      {"fl": 32.9, "n": 49}, {"fl": 33.6, "n": 51}, {"fl": 34.4, "n": 44}, {"fl": 35.1, "n": 48}, {"fl": 35.9, "n": 40}, {"fl": 36.7, "n": 43}, {"fl": 37.5, "n": 35},
      {"fl": 38.3, "n": 39}, {"fl": 39.2, "n": 31}, {"fl": 40.0, "n": 35}, {"fl": 41.0, "n": 28}, {"fl": 42.0, "n": 33}, {"fl": 43.0, "n": 27}, {"fl": 44.0, "n": 30},
      {"fl": 45.0, "n": 24}, {"fl": 46.0, "n": 28}, {"fl": 47.0, "n": 22}, {"fl": 48.1, "n": 26}, {"fl": 49.5, "n": 20}, {"fl": 51, "n": 23}, {"fl": 52.5, "n": 18},
      {"fl": 54, "n": 21}, {"fl": 56, "n": 15}, {"fl": 58, "n": 18}, {"fl": 60, "n": 13}, {"fl": 62, "n": 16}, {"fl": 64, "n": 11}, {"fl": 66, "n": 14},
      {"fl": 68, "n": 9}, {"fl": 70, "n": 12}, {"fl": 73, "n": 7}, {"fl": 76, "n": 10}, {"fl": 79, "n": 6}, {"fl": 82, "n": 8}, {"fl": 85, "n": 5},
      {"fl": 88, "n": 7}, {"fl": 92, "n": 4}, {"fl": 96, "n": 6}, {"fl": 100, "n": 3.5}, {"fl": 105, "n": 5}, {"fl": 110, "n": 2.5}, {"fl": 115, "n": 4},
      {"fl": 120, "n": 2}, {"fl": 126, "n": 3}, {"fl": 132, "n": 1.5}, {"fl": 138, "n": 2}, {"fl": 145, "n": 0.8}, {"fl": 152, "n": 1.5}, {"fl": 160, "n": 0.5},
      {"fl": 170, "n": 1}, {"fl": 180, "n": 0.3}, {"fl": 190, "n": 0.8}, {"fl": 200, "n": 0.2}, {"fl": 215, "n": 0.6}, {"fl": 230, "n": 0}, {"fl": 250, "n": 0.8},
      {"fl": 270, "n": 0}, {"fl": 300, "n": 0.7}, {"fl": 330, "n": 0}, {"fl": 360, "n": 0.6}, {"fl": 400, "n": 0}, {"fl": 440, "n": 0.5}, {"fl": 480, "n": 0},
      {"fl": 560, "n": 0}, {"fl": 650, "n": 0.8}, {"fl": 700, "n": 0}, {"fl": 1000, "n": 0}, {"fl": 10000, "n": 0}
    ],
    "fHist": [
      {"fl": 1.0, "n": 2}, {"fl": 1.03, "n": 3.5}, {"fl": 1.06, "n": 1.5}, {"fl": 1.1, "n": 3}, {"fl": 1.14, "n": 1.8}, {"fl": 1.18, "n": 3.2}, {"fl": 1.22, "n": 2},
      {"fl": 1.26, "n": 3.5}, {"fl": 1.3, "n": 1.5}, {"fl": 1.34, "n": 2.8}, {"fl": 1.38, "n": 1.6}, {"fl": 1.42, "n": 3}, {"fl": 1.47, "n": 1.2}, {"fl": 1.52, "n": 2.5},
      {"fl": 1.57, "n": 1.4}, {"fl": 1.62, "n": 2.8}, {"fl": 1.67, "n": 1}, {"fl": 1.72, "n": 2.5}, {"fl": 1.76, "n": 4}, {"fl": 1.8, "n": 10}, {"fl": 1.84, "n": 13},
      {"fl": 1.88, "n": 19}, {"fl": 1.9, "n": 12}, {"fl": 1.93, "n": 9}, {"fl": 1.96, "n": 5}, {"fl": 2.0, "n": 2.5}, {"fl": 2.05, "n": 1.5}, {"fl": 2.1, "n": 3},
      {"fl": 2.15, "n": 1.2}, {"fl": 2.2, "n": 2.4}, {"fl": 2.3, "n": 1}, {"fl": 2.4, "n": 2}, {"fl": 2.5, "n": 0.8}, {"fl": 2.6, "n": 2.2}, {"fl": 2.7, "n": 0.8},
      {"fl": 2.85, "n": 1.8}, {"fl": 3.0, "n": 0.6}, {"fl": 3.15, "n": 1.6}, {"fl": 3.3, "n": 0.5}, {"fl": 3.5, "n": 1.5}, {"fl": 3.7, "n": 0.8}, {"fl": 3.9, "n": 1.8},
      {"fl": 4.1, "n": 0.6}, {"fl": 4.3, "n": 1.4}, {"fl": 4.5, "n": 0.6}, {"fl": 4.75, "n": 1.8}, {"fl": 5.0, "n": 0.8}, {"fl": 5.3, "n": 1.5}, {"fl": 5.6, "n": 0.8},
      {"fl": 5.9, "n": 2}, {"fl": 6.2, "n": 1}, {"fl": 6.5, "n": 2.3}, {"fl": 6.8, "n": 1.2}, {"fl": 7.2, "n": 3}, {"fl": 7.6, "n": 1.6}, {"fl": 8.0, "n": 3.5},
      {"fl": 8.4, "n": 2.5}, {"fl": 8.8, "n": 4.5}, {"fl": 9.2, "n": 3}, {"fl": 9.6, "n": 5.5}, {"fl": 10.0, "n": 4.5}, {"fl": 10.5, "n": 6.5}, {"fl": 11, "n": 5.5},
      {"fl": 11.5, "n": 7.5}, {"fl": 12, "n": 6}, {"fl": 12.3, "n": 9}, {"fl": 12.8, "n": 7.5}, {"fl": 13.3, "n": 9.5}, {"fl": 13.8, "n": 8}, {"fl": 14.3, "n": 10.5},
      {"fl": 14.8, "n": 8.5}, {"fl": 15.1, "n": 11}, {"fl": 15.6, "n": 9}, {"fl": 16.1, "n": 11.5}, {"fl": 16.6, "n": 10}, {"fl": 17.2, "n": 12.5}, {"fl": 17.8, "n": 10.5},
      {"fl": 18.6, "n": 13}, {"fl": 19.3, "n": 11.5}, {"fl": 20, "n": 14}, {"fl": 21.2, "n": 12.5}, {"fl": 22, "n": 16}, {"fl": 23, "n": 14}, {"fl": 24, "n": 18},
      {"fl": 24.5, "n": 16}, {"fl": 25.5, "n": 20}, {"fl": 26.5, "n": 18}, {"fl": 27.5, "n": 22}, {"fl": 28.1, "n": 20}, {"fl": 29, "n": 25}, {"fl": 30, "n": 22},
      {"fl": 31, "n": 28}, {"fl": 32.2, "n": 25}, {"fl": 33.2, "n": 31}, {"fl": 34, "n": 28}, {"fl": 35, "n": 34}, {"fl": 35.8, "n": 31}, {"fl": 36.8, "n": 38},
      {"fl": 37.8, "n": 36}, {"fl": 38.8, "n": 43}, {"fl": 39.6, "n": 40}, {"fl": 41, "n": 47}, {"fl": 42.2, "n": 44}, {"fl": 43.8, "n": 50}, {"fl": 44.8, "n": 48},
      {"fl": 45.5, "n": 58}, {"fl": 46.2, "n": 55}, {"fl": 47, "n": 64}, {"fl": 47.8, "n": 60}, {"fl": 48.8, "n": 70}, {"fl": 49.6, "n": 66}, {"fl": 50.5, "n": 74},
      {"fl": 51.5, "n": 69}, {"fl": 52.5, "n": 78}, {"fl": 53.4, "n": 72}, {"fl": 54.1, "n": 80}, {"fl": 55, "n": 76}, {"fl": 55.8, "n": 85}, {"fl": 56.6, "n": 96},
      {"fl": 57.3, "n": 80}, {"fl": 58.2, "n": 88}, {"fl": 59, "n": 78}, {"fl": 59.7, "n": 85}, {"fl": 60.6, "n": 75}, {"fl": 61.8, "n": 82}, {"fl": 63, "n": 72},
      {"fl": 64, "n": 77}, {"fl": 65.5, "n": 69}, {"fl": 67, "n": 73}, {"fl": 68.5, "n": 65}, {"fl": 70.8, "n": 68}, {"fl": 72.5, "n": 61}, {"fl": 74.5, "n": 65},
      {"fl": 76.5, "n": 57}, {"fl": 78.5, "n": 63}, {"fl": 80.5, "n": 54}, {"fl": 83, "n": 58}, {"fl": 85, "n": 50}, {"fl": 87, "n": 53}, {"fl": 89, "n": 45},
      {"fl": 91.5, "n": 49}, {"fl": 94, "n": 40}, {"fl": 96.4, "n": 44}, {"fl": 98.5, "n": 36}, {"fl": 100.5, "n": 40}, {"fl": 103.6, "n": 34}, {"fl": 106.5, "n": 37},
      {"fl": 108.5, "n": 28}, {"fl": 111, "n": 30}, {"fl": 114, "n": 24}, {"fl": 117, "n": 27}, {"fl": 120, "n": 21}, {"fl": 123, "n": 23}, {"fl": 126, "n": 18},
      {"fl": 129, "n": 20}, {"fl": 133, "n": 15}, {"fl": 136, "n": 17}, {"fl": 140, "n": 12}, {"fl": 145, "n": 14}, {"fl": 150, "n": 10}, {"fl": 156, "n": 12},
      {"fl": 162, "n": 8}, {"fl": 168, "n": 10}, {"fl": 175, "n": 7}, {"fl": 180, "n": 9}, {"fl": 188, "n": 5.5}, {"fl": 196, "n": 7}, {"fl": 207, "n": 4.5},
      {"fl": 215, "n": 6}, {"fl": 225, "n": 3}, {"fl": 237, "n": 4.5}, {"fl": 248, "n": 2}, {"fl": 260, "n": 3}, {"fl": 275, "n": 1.2}, {"fl": 291, "n": 2},
      {"fl": 310, "n": 0.6}, {"fl": 330, "n": 1.2}, {"fl": 355, "n": 0.4}, {"fl": 380, "n": 0.8}, {"fl": 410, "n": 0}, {"fl": 450, "n": 0.8}, {"fl": 480, "n": 0},
      {"fl": 520, "n": 0.7}, {"fl": 560, "n": 0}, {"fl": 620, "n": 0.8}, {"fl": 660, "n": 0}, {"fl": 700, "n": 0.8}, {"fl": 760, "n": 0}, {"fl": 1000, "n": 0},
      {"fl": 10000, "n": 0}
    ],
    "cMean": [{"fl": 149, "n": 72.9, "t": "mean γH2AX=29.7"}],
    "fMean": [{"fl": 149, "n": 75.4, "t": "mean γH2AX=70.2"}],
    "cMeanLine": [{"fl": 23, "n": 67.6, "n2": -9.6}],
    "fMeanLine": [{"fl": 23, "n": 102.5, "n2": 0.5}]
  },
  "concat": [
    {
      "width": 482,
      "height": 406,
      "view": {"stroke": null},
      "title": {"text": "A", "dx": -72, "dy": 74},
      "encoding": {
        "x": {
          "field": "v", "type": "quantitative",
          "scale": {"domain": [-3, 1029], "nice": false, "zero": false},
          "axis": {
            "title": null, "values": [0, 50, 100, 150, 200, 250, 300, 350, 400, 450, 500, 550, 600, 650, 700, 750, 800, 850, 900, 950, 1000],
            "format": "d", "labelExpr": "datum.value % 200 == 0 ? datum.label : ''", "labelFlush": false, "labelOverlap": false,
            "domainColor": "#000", "tickColor": "#000", "offset": 1,
            "tickSize": {"condition": {"test": "datum.value % 100 == 0", "value": 8}, "value": 4},
            "labelPadding": 3, "grid": true, "gridColor": "#efec8c",
            "gridOpacity": {"condition": {"test": "datum.value % 200 == 0 && datum.value > 0", "value": 1}, "value": 0}
          }
        },
        "y": {
          "field": "s", "type": "quantitative",
          "scale": {"type": "log", "domain": [1, 10000], "nice": false},
          "axis": {
            "title": "Side scatter", "titleX": -40, "titleBaseline": "alphabetic",
            "values": [1, 2, 3, 4, 5, 6, 7, 8, 9, 10, 20, 30, 40, 50, 60, 70, 80, 90, 100, 200, 300, 400, 500, 600, 700, 800, 900, 1000, 2000, 3000, 4000, 5000, 6000, 7000, 8000, 9000, 10000],
            "labelExpr": "datum.value == 1 ? '10⁰' : datum.value == 10 ? '10¹' : datum.value == 100 ? '10²' : datum.value == 1000 ? '10³' : datum.value == 10000 ? '10⁴' : ''",
            "labelOverlap": false, "labelFlush": false,
            "domainColor": "#00e4f0", "domainWidth": 1.5, "tickColor": "#00e4f0",
            "tickSize": {"condition": {"test": "indexof([1, 10, 100, 1000, 10000], datum.value) >= 0", "value": 7}, "value": 4},
            "grid": true, "gridColor": "#efec8c",
            "gridOpacity": {"condition": {"test": "indexof([1, 10, 100, 1000, 10000], datum.value) >= 0", "value": 1}, "value": 0}
          }
        }
      },
      "layer": [
        {"data": {"name": "aCellsGate"}, "mark": {"type": "line", "color": "#e8305a", "strokeDash": [6, 3], "strokeWidth": 1.2}, "encoding": {"order": {"field": "i", "type": "quantitative"}}},
        {"data": {"name": "aDebrisGate"}, "mark": {"type": "line", "color": "#30d8ee", "strokeDash": [5, 3], "strokeWidth": 1.2}, "encoding": {"order": {"field": "i", "type": "quantitative"}}},
        {"data": {"name": "aHalo"}, "mark": {"type": "circle", "size": 14, "color": "#dc143c", "opacity": 0.6}},
        {"data": {"name": "aSparse"}, "mark": {"type": "circle", "size": 4, "color": "#dc143c", "opacity": 1}},
        {"data": {"name": "aCore"}, "mark": {"type": "circle", "size": 50, "color": "#dc143c", "opacity": 1}},
        {"data": {"name": "aDebris"}, "mark": {"type": "circle", "size": 6, "color": "#00dcf0", "opacity": 1}},
        {"data": {"name": "aGreen"}, "mark": {"type": "circle", "size": 4, "color": "#22c922", "opacity": 1}},
        {"data": {"name": "aArrow"}, "mark": {"type": "line", "color": "#1ab8e0", "strokeWidth": 2}, "encoding": {"detail": {"field": "part"}, "order": {"field": "i", "type": "quantitative"}}},
        {"data": {"name": "aCellsLabel"}, "mark": {"type": "text", "font": "Lato", "fontSize": 25, "color": "#c8001e", "align": "center", "baseline": "alphabetic"}, "encoding": {"text": {"field": "t"}}},
        {"data": {"name": "aDebrisLabel"}, "mark": {"type": "text", "font": "Lato", "fontSize": 25, "color": "#1ab8e0", "align": "left", "baseline": "alphabetic"}, "encoding": {"text": {"field": "t"}}},
        {"data": {"name": "aGateNo"}, "mark": {"type": "text", "font": "Liberation Sans", "fontSize": 10, "align": "center", "baseline": "middle"}, "encoding": {"text": {"field": "t"}, "color": {"field": "t", "type": "nominal", "scale": {"domain": ["1", "2"], "range": ["#e8305a", "#30d8ee"]}, "legend": null}}},
        {"data": {"name": "aEdge"}, "mark": {"type": "rule", "color": "#d9d6a0"}, "encoding": {"y2": {"field": "s2"}}}
      ]
    },
    {
      "width": 259,
      "height": 406,
      "view": {"stroke": "#ff3c3c"},
      "title": {"text": "B", "dx": -72, "dy": 68},
      "data": {"name": "bHist"},
      "mark": {"type": "line", "color": "#ff1a1a", "strokeWidth": 1.2},
      "encoding": {
        "x": {
          "field": "ch", "type": "quantitative",
          "scale": {"domain": [-6, 545], "nice": false, "zero": false},
          "axis": {
            "title": null, "values": [0, 50, 100, 150, 200, 250, 300, 350, 400, 450, 500], "format": "d",
            "labelExpr": "datum.value % 200 == 0 ? datum.label : ''", "labelFlush": false, "labelOverlap": false,
            "domainColor": "#ff3c3c", "tickColor": "#ff3c3c", "labelPadding": 3,
            "tickSize": {"condition": {"test": "datum.value % 100 == 0", "value": 8}, "value": 4}
          }
        },
        "y": {
          "field": "n", "type": "quantitative",
          "scale": {"domain": [0, 818], "nice": false},
          "axis": {
            "title": "Cell number", "titleX": -40, "titleBaseline": "alphabetic",
            "values": [0, 200, 400, 600, 800], "format": "d", "labelExpr": "datum.value % 400 == 0 ? datum.label : ''",
            "labelOverlap": false, "labelFlush": false, "domainColor": "#ff3c3c", "tickColor": "#ff3c3c", "tickSize": 9, "labelPadding": 1
          }
        }
      }
    },
    {
      "width": 481,
      "height": 406,
      "view": {"stroke": "#55ee55"},
      "title": {"text": "C", "dx": -73, "dy": 70},
      "encoding": {
        "x": {
          "field": "fl", "type": "quantitative",
          "scale": {"type": "log", "domain": [1, 10000], "nice": false},
          "axis": {
            "title": null,
            "values": [1, 2, 3, 4, 5, 6, 7, 8, 9, 10, 20, 30, 40, 50, 60, 70, 80, 90, 100, 200, 300, 400, 500, 600, 700, 800, 900, 1000, 2000, 3000, 4000, 5000, 6000, 7000, 8000, 9000, 10000],
            "labelExpr": "datum.value == 1 ? '10⁰' : datum.value == 10 ? '10¹' : datum.value == 100 ? '10²' : datum.value == 1000 ? '10³' : datum.value == 10000 ? '10⁴' : ''",
            "labelOverlap": false, "labelFlush": false, "domainColor": "#55ee55", "tickColor": "#44e044", "labelPadding": 3,
            "tickSize": {"condition": {"test": "indexof([1, 10, 100, 1000, 10000], datum.value) >= 0", "value": 8}, "value": 4}
          }
        },
        "y": {
          "field": "n", "type": "quantitative",
          "scale": {"domain": [0, 102.3], "nice": false},
          "axis": {
            "title": "Cell number", "titleX": -40, "titleBaseline": "alphabetic",
            "values": [0, 25, 50, 75, 100], "labelExpr": "datum.value % 50 == 0 ? datum.label : ''",
            "labelOverlap": false, "labelFlush": false, "domainColor": "#55ee55", "tickColor": "#44e044", "tickSize": 10, "labelPadding": 2
          }
        }
      },
      "layer": [
        {"data": {"name": "cHist"}, "mark": {"type": "line", "color": "#2af03c", "strokeWidth": 1.6}},
        {"data": {"name": "cMeanLine"}, "mark": {"type": "rule", "color": "#000000", "strokeDash": [7, 5], "strokeWidth": 2}, "encoding": {"y2": {"field": "n2"}}},
        {"data": {"name": "cMean"}, "mark": {"type": "text", "font": "Lato", "fontSize": 24, "color": "#000", "align": "left", "baseline": "alphabetic"}, "encoding": {"text": {"field": "t"}}}
      ]
    },
    {
      "width": 482,
      "height": 407,
      "view": {"stroke": null},
      "title": {"text": "D", "dx": -72, "dy": 81},
      "encoding": {
        "x": {
          "field": "v", "type": "quantitative",
          "scale": {"domain": [-3, 1029], "nice": false, "zero": false},
          "axis": {
            "title": "Electronic volume", "titleX": 214, "titleY": 45, "titleBaseline": "alphabetic",
            "values": [0, 50, 100, 150, 200, 250, 300, 350, 400, 450, 500, 550, 600, 650, 700, 750, 800, 850, 900, 950, 1000],
            "format": "d", "labelExpr": "datum.value % 200 == 0 ? datum.label : ''", "labelFlush": false, "labelOverlap": false,
            "domainColor": "#000", "tickColor": "#000", "offset": 1,
            "tickSize": {"condition": {"test": "datum.value % 100 == 0", "value": 8}, "value": 4},
            "labelPadding": 3, "grid": true, "gridColor": "#efec8c",
            "gridOpacity": {"condition": {"test": "datum.value % 200 == 0 && datum.value > 0", "value": 1}, "value": 0}
          }
        },
        "y": {
          "field": "s", "type": "quantitative",
          "scale": {"type": "log", "domain": [1, 10000], "range": [405, 15], "nice": false},
          "axis": {
            "title": "Side scatter", "titleX": -40, "titleBaseline": "alphabetic",
            "values": [1, 2, 3, 4, 5, 6, 7, 8, 9, 10, 20, 30, 40, 50, 60, 70, 80, 90, 100, 200, 300, 400, 500, 600, 700, 800, 900, 1000, 2000, 3000, 4000, 5000, 6000, 7000, 8000, 9000, 10000],
            "labelExpr": "datum.value == 1 ? '10⁰' : datum.value == 10 ? '10¹' : datum.value == 100 ? '10²' : datum.value == 1000 ? '10³' : datum.value == 10000 ? '10⁴' : ''",
            "labelOverlap": false, "labelFlush": false,
            "domainColor": "#00e4f0", "domainWidth": 1.5, "tickColor": "#00e4f0",
            "tickSize": {"condition": {"test": "indexof([1, 10, 100, 1000, 10000], datum.value) >= 0", "value": 7}, "value": 4},
            "grid": true, "gridColor": "#efec8c",
            "gridOpacity": {"condition": {"test": "indexof([1, 10, 100, 1000, 10000], datum.value) >= 0", "value": 1}, "value": 0}
          }
        }
      },
      "layer": [
        {"data": {"name": "dCellsGate"}, "mark": {"type": "line", "color": "#e8305a", "strokeDash": [6, 3], "strokeWidth": 1.2}, "encoding": {"order": {"field": "i", "type": "quantitative"}}},
        {"data": {"name": "dDebrisGate"}, "mark": {"type": "line", "color": "#30d8ee", "strokeDash": [5, 3], "strokeWidth": 1.2}, "encoding": {"order": {"field": "i", "type": "quantitative"}}},
        {"data": {"name": "dHalo"}, "mark": {"type": "circle", "size": 14, "color": "#dc143c", "opacity": 0.6}},
        {"data": {"name": "dSparse"}, "mark": {"type": "circle", "size": 4, "color": "#dc143c", "opacity": 1}},
        {"data": {"name": "dCore"}, "mark": {"type": "circle", "size": 50, "color": "#dc143c", "opacity": 1}},
        {"data": {"name": "dDebris"}, "mark": {"type": "circle", "size": 6, "color": "#00dcf0", "opacity": 1}},
        {"data": {"name": "dGreen"}, "mark": {"type": "circle", "size": 4, "color": "#22c922", "opacity": 1}},
        {"data": {"name": "dArrow"}, "mark": {"type": "line", "color": "#1ab8e0", "strokeWidth": 2}, "encoding": {"detail": {"field": "part"}, "order": {"field": "i", "type": "quantitative"}}},
        {"data": {"name": "dCellsLabel"}, "mark": {"type": "text", "font": "Lato", "fontSize": 25, "color": "#c8001e", "align": "center", "baseline": "alphabetic"}, "encoding": {"text": {"field": "t"}}},
        {"data": {"name": "dDebrisLabel"}, "mark": {"type": "text", "font": "Lato", "fontSize": 25, "color": "#1ab8e0", "align": "left", "baseline": "alphabetic"}, "encoding": {"text": {"field": "t"}}},
        {"data": {"name": "dGateNo"}, "mark": {"type": "text", "font": "Liberation Sans", "fontSize": 10, "align": "center", "baseline": "middle"}, "encoding": {"text": {"field": "t"}, "color": {"field": "t", "type": "nominal", "scale": {"domain": ["1", "2"], "range": ["#e8305a", "#30d8ee"]}, "legend": null}}},
        {"data": {"name": "dEdge"}, "mark": {"type": "rule", "color": "#d9d6a0"}, "encoding": {"y2": {"field": "s2"}}}
      ]
    },
    {
      "width": 259,
      "height": 407,
      "view": {"stroke": "#ff3c3c"},
      "title": {"text": "E", "dx": -70, "dy": 82},
      "data": {"name": "eHist"},
      "mark": {"type": "line", "color": "#ff1a1a", "strokeWidth": 1.2},
      "encoding": {
        "x": {
          "field": "ch", "type": "quantitative",
          "scale": {"domain": [-6, 545], "nice": false, "zero": false},
          "axis": {
            "title": "FL3/DNA", "titleY": 45, "titleBaseline": "alphabetic",
            "values": [0, 50, 100, 150, 200, 250, 300, 350, 400, 450, 500], "format": "d",
            "labelExpr": "datum.value % 200 == 0 ? datum.label : ''", "labelFlush": false, "labelOverlap": false,
            "domainColor": "#ff3c3c", "tickColor": "#ff3c3c", "labelPadding": 3,
            "tickSize": {"condition": {"test": "datum.value % 100 == 0", "value": 8}, "value": 4}
          }
        },
        "y": {
          "field": "n", "type": "quantitative",
          "scale": {"domain": [0, 820], "nice": false},
          "axis": {
            "title": "Cell number", "titleX": -40, "titleBaseline": "alphabetic",
            "values": [0, 200, 400, 600, 800], "format": "d", "labelExpr": "datum.value % 400 == 0 ? datum.label : ''",
            "labelOverlap": false, "labelFlush": false, "domainColor": "#ff3c3c", "tickColor": "#ff3c3c", "tickSize": 9, "labelPadding": 1
          }
        }
      }
    },
    {
      "width": 481,
      "height": 407,
      "view": {"stroke": "#55ee55"},
      "title": {"text": "F", "dx": -72, "dy": 82},
      "encoding": {
        "x": {
          "field": "fl", "type": "quantitative",
          "scale": {"type": "log", "domain": [1, 10000], "nice": false},
          "axis": {
            "title": "FL1/γH2AX", "titleX": 251, "titleY": 45, "titleBaseline": "alphabetic",
            "values": [1, 2, 3, 4, 5, 6, 7, 8, 9, 10, 20, 30, 40, 50, 60, 70, 80, 90, 100, 200, 300, 400, 500, 600, 700, 800, 900, 1000, 2000, 3000, 4000, 5000, 6000, 7000, 8000, 9000, 10000],
            "labelExpr": "datum.value == 1 ? '10⁰' : datum.value == 10 ? '10¹' : datum.value == 100 ? '10²' : datum.value == 1000 ? '10³' : datum.value == 10000 ? '10⁴' : ''",
            "labelOverlap": false, "labelFlush": false, "domainColor": "#55ee55", "tickColor": "#44e044", "labelPadding": 3,
            "tickSize": {"condition": {"test": "indexof([1, 10, 100, 1000, 10000], datum.value) >= 0", "value": 8}, "value": 4}
          }
        },
        "y": {
          "field": "n", "type": "quantitative",
          "scale": {"domain": [0, 102.5], "nice": false},
          "axis": {
            "title": "Cell number", "titleX": -40, "titleBaseline": "alphabetic",
            "values": [0, 25, 50, 75, 100], "labelExpr": "datum.value % 50 == 0 ? datum.label : ''",
            "labelOverlap": false, "labelFlush": false, "domainColor": "#55ee55", "tickColor": "#44e044", "tickSize": 10, "labelPadding": 2
          }
        }
      },
      "layer": [
        {"data": {"name": "fHist"}, "mark": {"type": "line", "color": "#2af03c", "strokeWidth": 1.6}},
        {"data": {"name": "fMeanLine"}, "mark": {"type": "rule", "color": "#000000", "strokeDash": [7, 5], "strokeWidth": 2}, "encoding": {"y2": {"field": "n2"}}},
        {"data": {"name": "fMean"}, "mark": {"type": "text", "font": "Lato", "fontSize": 24, "color": "#000", "align": "left", "baseline": "alphabetic"}, "encoding": {"text": {"field": "t"}}}
      ]
    }
  ],
  "config": {
    "font": "Lato",
    "axis": {
      "labelFont": "Liberation Sans", "labelFontSize": 10, "labelColor": "#333",
      "titleFont": "Lato", "titleFontSize": 27, "titleFontWeight": "normal", "titleColor": "#000", "grid": false
    },
    "title": {"font": "Lato", "fontSize": 66, "fontWeight": "bold", "anchor": "start", "frame": "group", "baseline": "alphabetic", "color": "#000", "offset": 0}
  }
}
